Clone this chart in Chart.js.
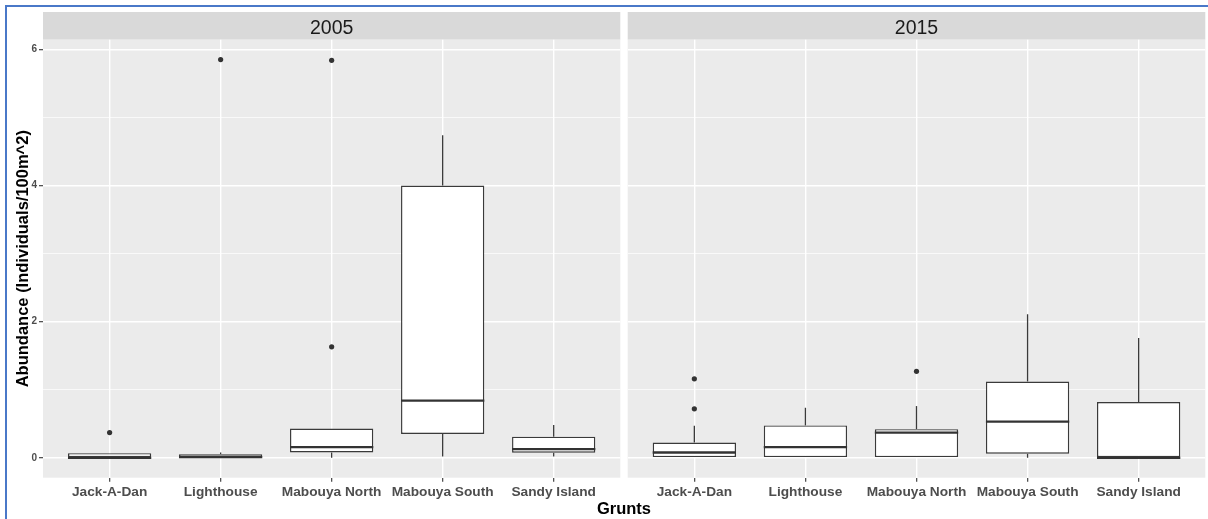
<!DOCTYPE html>
<html>
<head>
<meta charset="utf-8">
<script src="https://cdn.jsdelivr.net/npm/chart.js@4.4.1/dist/chart.umd.min.js"></script>
<style>
  body { margin: 0; background: #fff; }
  #wrap { position: relative; width: 1208px; height: 519px; overflow: hidden; font-family: "Liberation Sans", Arial, sans-serif; }
  #frame { position: absolute; left: 5px; top: 5px; width: 1260px; height: 560px; border-left: 2px solid #4a78c8; border-top: 2px solid #4a78c8; }
  #left { position: absolute; left: 0; top: 0; }
  #right { position: absolute; left: 623px; top: 0; }
  #xtitle { position: absolute; left: 0; width: 1248px; top: 499px; line-height: 19px; text-align: center; font-weight: bold; font-size: 16.5px; color: #000; }
</style>
</head>
<body>
<div id="wrap">
  <div id="frame"></div>
  <canvas id="left" width="623" height="519"></canvas>
  <canvas id="right" width="585" height="519"></canvas>
  <div id="xtitle">Grunts</div>
</div>
<script>
// sites on the x axis
const categories = ['Jack-A-Dan', 'Lighthouse', 'Mabouya North', 'Mabouya South', 'Sandy Island'];
const yTicks = [0, 2, 4, 6];
const yMinor = [1, 3, 5];
const yMin = -0.2925, yMax = 6.1425;

// 2005 box stats: lower whisker, q1, median, q3, upper whisker
const lo2005  = [0, 0, 0, 0.02, 0.02];
const q1_2005 = [0, 0, 0.078, 0.35, 0.074];
const med2005 = [0, 0.01, 0.156, 0.84, 0.127];
const q3_2005 = [0.068, 0.053, 0.43, 4.0, 0.31];
const hi2005  = [0.068, 0.078, 0.43, 4.74, 0.48];
const out2005 = [[0.37], [5.85], [1.63, 5.84], [], []];

// 2015
const lo2015  = [0, 0, 0, 0, 0];
const q1_2015 = [0, 0, 0, 0.06, 0];
const med2015 = [0.078, 0.156, 0.37, 0.53, 0];
const q3_2015 = [0.225, 0.475, 0.42, 1.12, 0.82];
const hi2015  = [0.47, 0.735, 0.76, 2.11, 1.76];
const out2015 = [[0.72, 1.16], [], [1.27], [], []];

Chart.defaults.font.family = '"Liberation Sans", Arial, sans-serif';

// panel background, strip, whiskers and medians
const boxStats = {
  id: 'boxStats',
  beforeDraw(chart, args, opts) {
    const c = chart.ctx, a = chart.chartArea;
    c.save();
    c.fillStyle = '#D9D9D9';
    c.fillRect(a.left, 12, a.right - a.left, a.top - 12);
    c.fillStyle = '#1A1A1A';
    c.font = '19.5px "Liberation Sans", Arial, sans-serif';
    c.textAlign = 'center';
    c.textBaseline = 'alphabetic';
    c.fillText(opts.year, (a.left + a.right) / 2, 34.3);
    c.fillStyle = '#EBEBEB';
    c.fillRect(a.left, a.top, a.right - a.left, a.bottom - a.top);
    c.restore();
  },
  beforeDatasetsDraw(chart, args, opts) {
    const c = chart.ctx, x = chart.scales.x, y = chart.scales.y;
    c.save();
    c.strokeStyle = '#3a3a3a';
    c.lineWidth = 1.3;
    categories.forEach((cat, i) => {
      const px = x.getPixelForValue(i);
      c.beginPath();
      c.moveTo(px, y.getPixelForValue(opts.lo[i]));
      c.lineTo(px, y.getPixelForValue(opts.q1[i]));
      c.moveTo(px, y.getPixelForValue(opts.q3[i]));
      c.lineTo(px, y.getPixelForValue(opts.hi[i]));
      c.stroke();
    });
    c.restore();
  },
  afterDatasetsDraw(chart, args, opts) {
    const c = chart.ctx, x = chart.scales.x, y = chart.scales.y;
    const bars = chart.getDatasetMeta(0).data;
    c.save();
    c.strokeStyle = '#333';
    c.lineWidth = 2.3;
    categories.forEach((cat, i) => {
      const px = x.getPixelForValue(i), hw = bars[i].width / 2;
      const py = y.getPixelForValue(opts.med[i]);
      c.beginPath();
      c.moveTo(px - hw, py);
      c.lineTo(px + hw, py);
      c.stroke();
    });
    c.restore();
  }
};

function makePanel(id, year, lo, q1, med, q3, hi, out, showY) {
  const boxes = categories.map((c, i) => ({ x: i, y: [q1[i], q3[i]] }));
  const pts = [];
  out.forEach((arr, i) => arr.forEach(v => pts.push({ x: i, y: v })));
  return new Chart(document.getElementById(id), {
    type: 'bar',
    data: {
      datasets: [
        { type: 'bar', data: boxes, backgroundColor: '#fff', borderColor: '#3a3a3a', borderWidth: 1.4,
          borderSkipped: false, barPercentage: 0.75, categoryPercentage: 1 },
        { type: 'line', data: pts, showLine: false, pointRadius: 2.6, pointHoverRadius: 2.6,
          pointBackgroundColor: '#333', pointBorderWidth: 0 }
      ]
    },
    options: {
      responsive: false,
      animation: false,
      events: [],
      layout: { padding: { top: 39.7, right: 2.7, bottom: 0, left: showY ? 0 : 4.7 } },
      plugins: {
        legend: { display: false },
        tooltip: { enabled: false },
        boxStats: { year: year, lo: lo, q1: q1, med: med, q3: q3, hi: hi }
      },
      scales: {
        x: {
          type: 'linear', min: -0.6, max: 4.6, offset: false,
          afterBuildTicks: s => { s.ticks = categories.map((c, i) => ({ value: i })); },
          afterFit: s => { s.height = 41.3; },
          grid: { offset: false, color: '#fff', lineWidth: 1.4, tickColor: '#333', tickLength: 4, tickWidth: 1.1 },
          border: { display: false },
          ticks: {
            callback: v => categories[v], color: '#4D4D4D', padding: 2,
            maxRotation: 0, autoSkip: false,
            font: { size: 13.7, weight: 'bold' }
          }
        },
        y: {
          min: yMin, max: yMax,
          afterBuildTicks: s => { s.ticks = yTicks.concat(yMinor).sort().map(v => ({ value: v })); },
          afterFit: s => { s.width = showY ? 43 : 0; },
          grid: {
            color: '#fff',
            lineWidth: ctx => yTicks.includes(ctx.tick.value) ? 1.4 : 0.7,
            tickColor: ctx => yTicks.includes(ctx.tick.value) ? '#333' : 'rgba(0,0,0,0)',
            drawTicks: showY, tickLength: 4, tickWidth: 1.1
          },
          border: { display: false },
          ticks: {
            display: showY, autoSkip: false, padding: 2,
            callback: v => yTicks.includes(v) ? String(v) : '',
            color: '#4D4D4D', font: { size: 10, weight: 'bold' }
          },
          title: {
            display: showY, text: 'Abundance (Individuals/100m^2)', color: '#000',
            padding: { top: 13.5, bottom: 0 },
            font: { size: 16.5, weight: 'bold' }
          }
        }
      }
    },
    plugins: [boxStats]
  });
}

makePanel('left', '2005', lo2005, q1_2005, med2005, q3_2005, hi2005, out2005, true);
makePanel('right', '2015', lo2015, q1_2015, med2015, q3_2015, hi2015, out2015, false);
</script>
</body>
</html>
